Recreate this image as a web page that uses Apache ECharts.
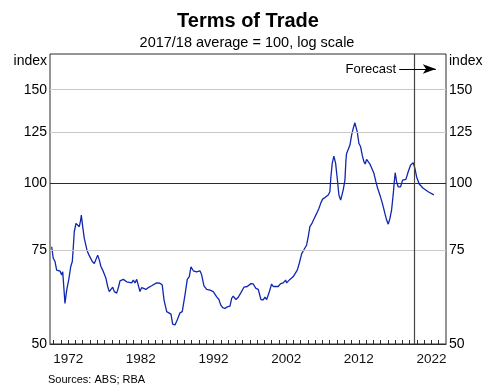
<!DOCTYPE html>
<html>
<head>
<meta charset="utf-8">
<script src="https://cdn.jsdelivr.net/npm/echarts@6/dist/echarts.min.js"></script>
<style>
  html, body { margin: 0; padding: 0; background: #fff; }
  #chart { width: 490px; height: 388px; }
</style>
</head>
<body>
<div id="chart"></div>
<script>
// Terms of trade, 2017/18 average = 100 (dates as decimal years)
const years = [
  1969.73, 1969.95, 1970.19, 1970.42, 1970.64, 1970.88, 1971.11, 1971.25, 1971.56, 1971.80,
  1972.11, 1972.35, 1972.57, 1972.71, 1972.84, 1973.08, 1973.31, 1973.53, 1973.72, 1973.81,
  1974.00, 1974.22, 1974.41, 1974.59, 1974.87, 1975.10, 1975.32, 1975.60, 1975.83, 1976.06,
  1976.28, 1976.52, 1976.75, 1976.97, 1977.20, 1977.44, 1977.66, 1977.89, 1978.13, 1978.35,
  1978.68, 1978.95, 1979.13, 1979.59, 1979.86, 1980.05, 1980.27, 1980.74, 1980.96, 1981.20,
  1981.43, 1981.65, 1981.88, 1982.12, 1982.34, 1982.71, 1983.03, 1983.49, 1983.71, 1984.18,
  1984.63, 1984.95, 1985.19, 1985.56, 1985.78, 1986.15, 1986.38, 1986.70, 1987.02, 1987.39,
  1987.70, 1988.08, 1988.39, 1988.67, 1988.90, 1989.22, 1989.68, 1990.14, 1990.37, 1990.69,
  1991.06, 1991.51, 1991.97, 1992.44, 1992.75, 1992.99, 1993.26, 1993.58, 1993.90, 1994.27,
  1994.50, 1994.72, 1995.09, 1995.41, 1995.74, 1996.19, 1996.65, 1997.16, 1997.47, 1997.84,
  1998.16, 1998.53, 1998.85, 1999.08, 1999.32, 1999.63, 2000.00, 2000.22, 2000.46, 2000.91,
  2001.24, 2001.60, 2001.93, 2002.07, 2002.29, 2002.52, 2002.76, 2002.98, 2003.21, 2003.53,
  2003.80, 2004.13, 2004.49, 2004.82, 2005.04, 2005.27, 2005.59, 2005.86, 2006.20, 2006.51,
  2006.75, 2007.02, 2007.34, 2007.57, 2007.79, 2008.02, 2008.16, 2008.34, 2008.57, 2008.81,
  2009.03, 2009.26, 2009.50, 2009.63, 2009.85, 2010.09, 2010.23, 2010.32, 2010.54, 2010.78,
  2011.01, 2011.23, 2011.46, 2011.56, 2011.78, 2012.01, 2012.25, 2012.47, 2012.70, 2012.88,
  2013.07, 2013.29, 2013.53, 2013.76, 2014.08, 2014.35, 2014.59, 2014.90, 2015.14, 2015.36,
  2015.59, 2015.83, 2016.05, 2016.28, 2016.51, 2016.73, 2016.87, 2017.01, 2017.20, 2017.42,
  2017.75, 2018.03, 2018.21, 2018.48, 2018.80, 2019.13, 2019.49, 2019.72, 2019.95, 2020.31,
  2020.86, 2021.55, 2022.33
];
const termsOfTrade = [
  76.1, 72.4, 71.4, 68.8, 68.3, 68.5, 67.4, 68.3, 59.6, 63.1,
  66.4, 69.8, 71.4, 76.1, 81.2, 84.2, 83.6, 83.0, 85.4, 87.3,
  83.0, 78.9, 78.4, 75.0, 73.4, 72.9, 71.4, 70.8, 71.0, 73.4,
  71.9, 69.8, 68.8, 68.3, 66.4, 64.1, 62.7, 62.7, 63.9, 62.7,
  62.3, 64.1, 65.7, 66.1, 66.4, 65.4, 65.1, 65.1, 65.9, 65.1,
  66.1, 64.5, 62.7, 63.8, 64.1, 63.3, 63.8, 64.3, 64.8, 65.1,
  65.0, 64.5, 60.5, 57.5, 57.1, 56.9, 54.5, 54.3, 55.5, 57.2,
  57.5, 61.8, 66.1, 66.9, 69.8, 68.6, 68.3, 68.6, 67.4, 64.3,
  63.3, 63.1, 62.7, 61.3, 60.6, 59.2, 58.5, 58.3, 58.7, 58.9,
  60.9, 61.5, 60.6, 61.2, 62.3, 63.9, 64.1, 64.9, 64.8, 63.6,
  63.3, 60.6, 60.5, 61.2, 60.6, 62.3, 64.8, 64.1, 64.5, 64.1,
  64.9, 65.1, 65.9, 65.1, 65.5, 66.1, 66.4, 66.9, 67.4, 68.8,
  70.8, 73.8, 75.3, 76.7, 79.5, 83.0, 84.4, 86.0, 87.9, 89.8,
  91.8, 93.5, 94.1, 93.8, 95.2, 96.5, 103.0, 109.1, 112.6, 109.1,
  102.3, 95.2, 93.1, 93.8, 97.2, 101.5, 110.7, 113.9, 115.9, 118.1,
  123.3, 126.9, 130.0, 130.6, 125.1, 119.0, 117.2, 113.1, 109.9, 108.8,
  111.0, 110.7, 108.8, 108.3, 104.5, 100.8, 98.0, 95.2, 92.9, 90.5,
  87.9, 85.4, 83.9, 86.0, 89.2, 95.2, 100.3, 104.8, 100.8, 98.6,
  98.6, 101.5, 101.0, 101.8, 105.2, 108.3, 109.4, 106.8, 103.0, 99.8,
  98.0, 96.5, 95.2
];

// Axis ticks and labels
const yTicks = [50, 75, 100, 125, 150];
const xLabelYears = [1972, 1982, 1992, 2002, 2012, 2022];
const xTickYears = [];
for (let y = 1970; y <= 2023; y++) xTickYears.push(y);

// Start of the forecast period and the arrow annotation that points into it
const forecastStart = 2019.6;
const forecastArrow = { from: 2017.55, to: 2022.6, level: 164 };

const FONT = 'Arial, "Liberation Sans", sans-serif';
const LINE_BLUE = '#1027b0';
const BORDER = '#2b2b2b';

const chart = echarts.init(document.getElementById('chart'), null, { renderer: 'canvas' });

const gridLineData = yTicks.map(v => ({
  yAxis: v,
  lineStyle: { color: (v === 100 || v === 50) ? BORDER : '#c9c9c9', width: 1, type: 'solid' }
}));

const option = {
  animation: false,
  backgroundColor: '#ffffff',
  grid: {
    left: 50, right: 44, top: 54, bottom: 44,
    show: true, borderColor: BORDER, borderWidth: 1, backgroundColor: 'transparent'
  },
  xAxis: {
    type: 'value',
    min: 1969.5,
    max: 2024,
    axisLine: { show: true, onZero: false, lineStyle: { color: BORDER, width: 1 } },
    splitLine: { show: false },
    axisTick: {
      show: true, inside: true, length: 4,
      customValues: xTickYears,
      lineStyle: { color: BORDER, width: 1 }
    },
    axisLabel: {
      show: true,
      customValues: xLabelYears,
      margin: 8,
      fontSize: 13.5,
      fontFamily: FONT,
      color: '#111',
      formatter: v => String(v)
    }
  },
  yAxis: {
    type: 'log',
    logBase: 10,
    min: 50,
    max: 175,
    axisLine: { show: false },
    axisTick: { show: false },
    axisLabel: { show: false },
    splitLine: { show: false }
  },
  graphic: [
    { type: 'text', x: 248, y: 21, z: 10,
      style: { text: 'Terms of Trade', fill: '#000', fontFamily: FONT, fontSize: 20, fontWeight: 'bold',
               textAlign: 'center', textVerticalAlign: 'middle' } },
    { type: 'text', x: 247, y: 43, z: 10,
      style: { text: '2017/18 average = 100, log scale', fill: '#000', fontFamily: FONT, fontSize: 14.5,
               textAlign: 'center', textVerticalAlign: 'middle' } },
    { type: 'text', x: 47, y: 61, z: 10,
      style: { text: 'index', fill: '#000', fontFamily: FONT, fontSize: 14,
               textAlign: 'right', textVerticalAlign: 'middle' } },
    { type: 'text', x: 449, y: 61, z: 10,
      style: { text: 'index', fill: '#000', fontFamily: FONT, fontSize: 14,
               textAlign: 'left', textVerticalAlign: 'middle' } },
    { type: 'text', x: 48, y: 380, z: 10,
      style: { text: 'Sources: ABS; RBA', fill: '#000', fontFamily: FONT, fontSize: 11,
               textAlign: 'left', textVerticalAlign: 'middle' } }
  ],
  series: [
    {
      // horizontal reference lines with left-hand labels
      name: 'gridLeft',
      type: 'line',
      data: [],
      z: 1,
      silent: true,
      markLine: {
        silent: true,
        symbol: ['none', 'none'],
        animation: false,
        label: {
          show: true, position: 'start', distance: 3,
          fontSize: 14, fontFamily: FONT, color: '#000',
          formatter: p => String(p.value)
        },
        data: gridLineData
      }
    },
    {
      // right-hand labels for the same levels
      name: 'gridRight',
      type: 'line',
      data: [],
      z: 1,
      silent: true,
      markLine: {
        silent: true,
        symbol: ['none', 'none'],
        animation: false,
        lineStyle: { color: 'rgba(0,0,0,0)', width: 0 },
        label: {
          show: true, position: 'end', distance: 3,
          fontSize: 14, fontFamily: FONT, color: '#000', opacity: 1,
          formatter: p => String(p.value)
        },
        data: yTicks.map(v => ({ yAxis: v }))
      }
    },
    {
      name: 'Terms of trade',
      type: 'line',
      z: 3,
      showSymbol: false,
      symbol: 'none',
      smooth: false,
      lineStyle: { color: LINE_BLUE, width: 1.3 },
      data: years.map((yr, i) => [yr, termsOfTrade[i]]),
      markLine: {
        silent: true,
        animation: false,
        symbol: ['none', 'none'],
        data: [
          {
            xAxis: forecastStart,
            label: { show: false },
            lineStyle: { color: '#444', width: 1.2, type: 'solid' }
          },
          [
            {
              coord: [forecastArrow.from, forecastArrow.level],
              symbol: 'none',
              lineStyle: { color: '#000', width: 1, type: 'solid' },
              label: {
                show: true, position: 'start', distance: 3,
                formatter: 'Forecast', fontSize: 13, fontFamily: FONT, color: '#000'
              }
            },
            {
              coord: [forecastArrow.to, forecastArrow.level],
              symbol: 'arrow',
              symbolSize: [7, 13]
            }
          ]
        ]
      }
    }
  ]
};

chart.setOption(option);
</script>
</body>
</html>
